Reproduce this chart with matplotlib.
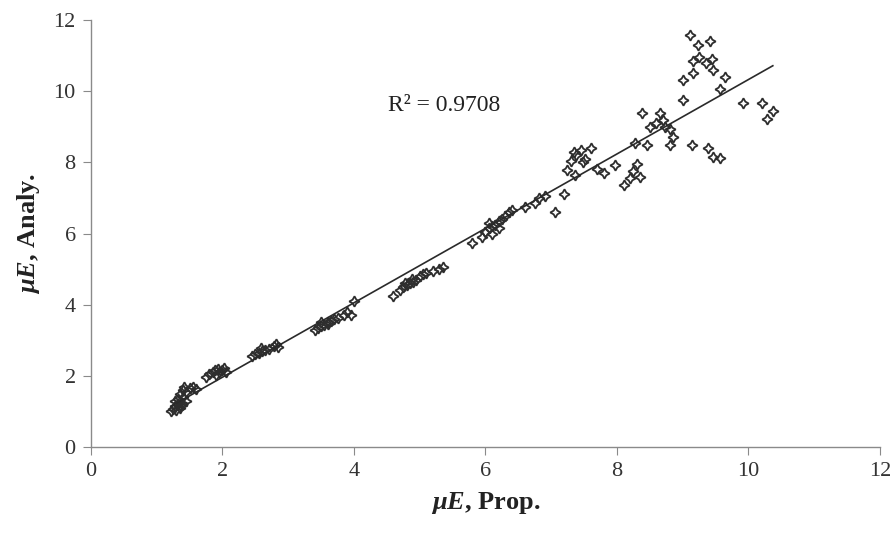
import numpy as np
import matplotlib.pyplot as plt

plt.rcParams['font.family'] = ['Liberation Serif', 'DejaVu Serif']
plt.rcParams['mathtext.fontset'] = 'custom'
plt.rcParams['mathtext.bfit'] = 'Liberation Serif:italic:bold'
plt.rcParams['mathtext.it'] = 'Liberation Serif:italic'
plt.rcParams['mathtext.rm'] = 'Liberation Serif'

# proposed vs analytical values
prop = [1.22, 1.25, 1.28, 1.30, 1.32, 1.35, 1.28, 1.33, 1.38, 1.40, 1.35, 1.40, 1.45, 1.42, 1.50, 1.55, 1.60, 1.38, 1.45,
        1.75, 1.80, 1.85, 1.90, 1.95, 2.00, 2.05, 1.88, 1.93, 2.02,
        2.45, 2.50, 2.55, 2.60, 2.65, 2.58, 2.70, 2.78, 2.82, 2.85,
        3.40, 3.45, 3.50, 3.55, 3.60, 3.65, 3.70, 3.75, 3.50, 3.60, 3.85, 3.90, 3.95, 4.00,
        4.60, 4.70, 4.75, 4.80, 4.85, 4.90, 4.95, 4.78, 4.88, 5.00, 5.10, 5.20, 5.30, 5.35, 5.05,
        5.80, 5.95, 6.00, 6.05, 6.10, 6.15, 6.20, 6.25, 6.10, 6.20, 6.30, 6.35, 6.40, 6.05, 6.60, 6.75, 6.82, 6.90, 7.05, 7.20,
        7.24, 7.36, 7.30, 7.38, 7.45, 7.52, 7.60, 7.35, 7.48, 7.70, 7.80, 7.97, 8.10, 8.20, 8.25, 8.30, 8.35, 8.27,
        8.45, 8.50, 8.60, 8.70, 8.80, 8.38, 8.65, 8.80, 8.85, 9.14, 9.38, 9.46, 9.57, 8.73,
        9.11, 9.41, 9.23, 9.16, 9.25, 9.35, 9.44, 9.46, 9.64, 9.16, 9.00, 9.57, 9.00, 9.92, 10.20, 10.37, 10.28]
analy = [1.02, 1.08, 1.15, 1.05, 1.20, 1.10, 1.30, 1.35, 1.25, 1.40, 1.50, 1.60, 1.55, 1.70, 1.65, 1.70, 1.62, 1.18, 1.30,
         1.98, 2.05, 2.10, 2.02, 2.12, 2.15, 2.10, 2.15, 2.20, 2.22,
         2.55, 2.60, 2.65, 2.70, 2.72, 2.78, 2.75, 2.85, 2.90, 2.82,
         3.30, 3.35, 3.40, 3.42, 3.50, 3.55, 3.60, 3.62, 3.50, 3.45, 3.72, 3.80, 3.70, 4.10,
         4.25, 4.40, 4.50, 4.55, 4.60, 4.65, 4.70, 4.62, 4.72, 4.80, 4.90, 4.95, 5.00, 5.05, 4.85,
         5.72, 5.90, 6.05, 6.15, 6.20, 6.25, 6.35, 6.40, 6.00, 6.15, 6.50, 6.60, 6.65, 6.30, 6.75, 6.85, 7.00, 7.05, 6.60, 7.10,
         7.78, 7.64, 8.05, 8.20, 8.35, 8.10, 8.40, 8.30, 8.00, 7.80, 7.70, 7.92, 7.36, 7.55, 7.75, 7.95, 7.60, 8.54,
         8.48, 9.00, 9.10, 9.18, 8.95, 9.38, 9.38, 8.48, 8.70, 8.48, 8.40, 8.15, 8.12, 8.99,
         11.57, 11.40, 11.29, 10.85, 10.96, 10.80, 10.90, 10.60, 10.40, 10.50, 10.30, 10.06, 9.74, 9.66, 9.66, 9.44, 9.21]

r2_text = 'R² = 0.9708'

x = np.array(prop)
y = np.array(analy)
k, b = np.polyfit(x, y, 1)
xl = np.array([x.min(), x.max()])

fig = plt.figure(figsize=(8.93, 5.38), dpi=100)
ax = fig.add_axes([91 / 893, 91 / 538, 789 / 893, 427 / 538])

ax.plot(x, y, linestyle='none', marker=(4, 1, 0), markersize=7.5,
        markerfacecolor='none', markeredgecolor='#2e2e2e', markeredgewidth=1.3)
ax.plot(xl, k * xl + b, color='#2a2a2a', linewidth=1.2)

ax.text(4.52, 9.6, r2_text, fontsize=17, ha='left', va='center', color='#222222')

ax.set_xlim(0, 12)
ax.set_ylim(0, 12)
ax.set_xticks(range(0, 13, 2))
ax.set_yticks(range(0, 13, 2))
for s in ['top', 'right']:
    ax.spines[s].set_visible(False)
for s in ['left', 'bottom']:
    ax.spines[s].set_color('#8a8a8a')
    ax.spines[s].set_linewidth(1.0)
ax.tick_params(direction='out', length=6, color='#8a8a8a', labelsize=16, labelcolor='#333333', pad=5)

ax.set_xlabel(r'$\mathbfit{\mu E}$, Prop.', fontsize=19, fontweight='bold', color='#222222', labelpad=6)
ax.set_ylabel(r'$\mathbfit{\mu E}$, Analy.', fontsize=19, fontweight='bold', color='#222222', labelpad=8)

fig.savefig('out.png', dpi=100)
